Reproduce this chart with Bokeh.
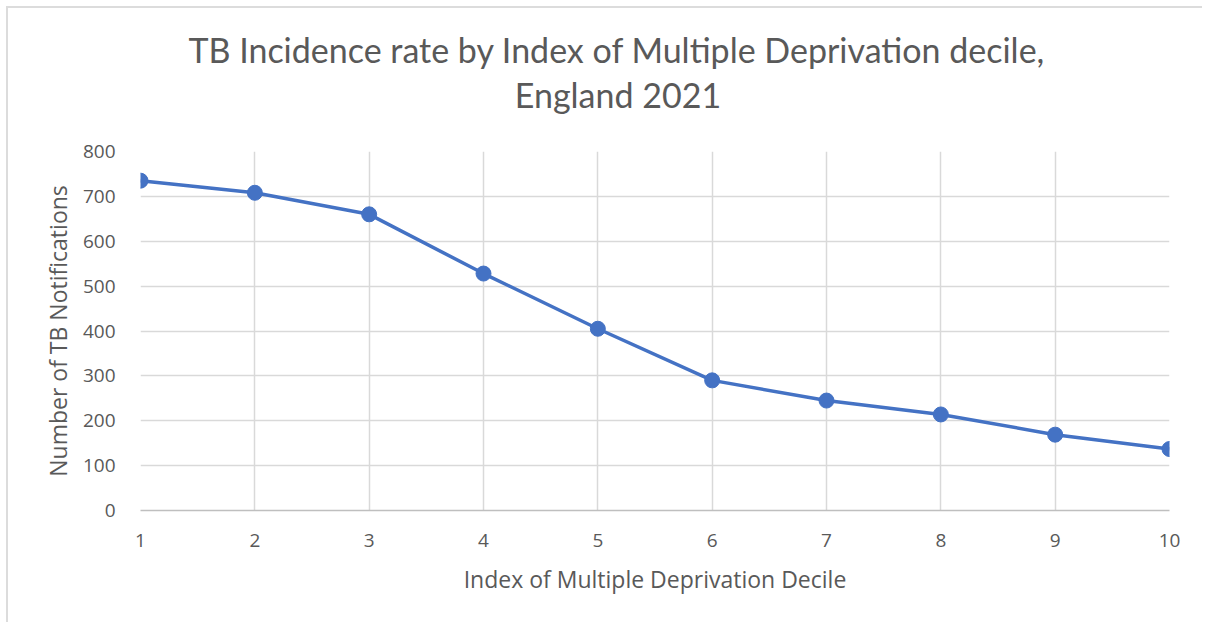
from bokeh.plotting import figure
from bokeh.layouts import column
from bokeh.embed import file_html
from bokeh.resources import INLINE
from bokeh.models import Range1d, FixedTicker, Label

deciles = [1, 2, 3, 4, 5, 6, 7, 8, 9, 10]
notifications = [735, 708, 660, 528, 405, 290, 245, 214, 169, 137]
y_ticks = [0, 100, 200, 300, 400, 500, 600, 700, 800]
title_lines = ["TB Incidence rate by Index of Multiple Deprivation decile,", "England 2021"]

TXT = "#595959"
GRID = "#d9d9d9"
BLUE = "#4472C4"
W = 1194

# title strip (pixel-like coordinates, y downward)
tf = figure(width=W, height=131, output_backend="svg", toolbar_location=None,
            x_range=Range1d(0, W), y_range=Range1d(131, 0),
            x_axis_type=None, y_axis_type=None,
            min_border=0, outline_line_color=None)
tf.grid.visible = False
for line, (cx, cy) in zip(title_lines, [(553, 41), (554, 86)]):
    tf.add_layout(Label(x=cx, y=cy, text=line, text_align="center", text_baseline="middle",
                        text_font="Lato", text_font_size="34px", text_color=TXT))

p = figure(width=W, height=483, output_backend="svg", toolbar_location=None,
           x_range=Range1d(1, 10), y_range=Range1d(0, 800),
           min_border_left=132, min_border_right=33, min_border_top=12, min_border_bottom=112)
p.title = None
p.outline_line_color = None
p.xaxis.ticker = FixedTicker(ticks=deciles)
p.yaxis.ticker = FixedTicker(ticks=y_ticks)
for ax in (p.xaxis, p.yaxis):
    ax.major_tick_line_color = None
    ax.minor_tick_line_color = None
    ax.major_label_text_font = "Open Sans"
    ax.major_label_text_font_size = "19px"
    ax.major_label_text_color = TXT
    ax.axis_label_text_font = "Open Sans"
    ax.axis_label_text_font_size = "23px"
    ax.axis_label_text_font_style = "normal"
    ax.axis_label_text_color = TXT
p.xaxis.axis_line_color = "#bfbfbf"
p.xaxis.axis_line_width = 1.5
p.yaxis.axis_line_color = None
p.xaxis.major_label_standoff = 17
p.yaxis.major_label_standoff = 19
p.xaxis.axis_label = "Index of Multiple Deprivation Decile"
p.yaxis.axis_label = "Number of TB Notifications"
p.xaxis.axis_label_standoff = 13
p.yaxis.axis_label_standoff = 6

p.xgrid.grid_line_color = GRID
p.ygrid.grid_line_color = GRID
p.xgrid.grid_line_width = 1.5
p.ygrid.grid_line_width = 1.5

p.line(deciles, notifications, line_color=BLUE, line_width=3.5)
p.scatter(deciles, notifications, size=15, fill_color=BLUE, line_color=BLUE)

layout = column(tf, p, spacing=0,
                styles={"border-top": "2px solid #dcdcdc", "border-left": "2px solid #dcdcdc",
                        "margin-top": "6px", "margin-left": "6px"})

open("out.html", "w").write(file_html(layout, INLINE))
